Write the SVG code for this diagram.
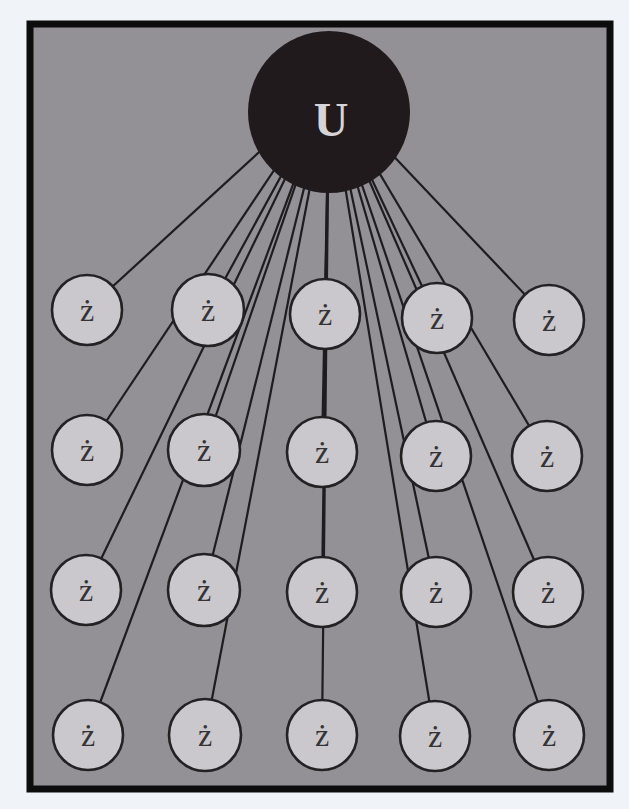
<svg xmlns="http://www.w3.org/2000/svg" width="629" height="809" viewBox="0 0 629 809">
<style>
.bg{fill:#f0f4f8}
.frame{fill:#939195;stroke:#0d0d0d;stroke-width:7}
.edge{stroke:#1e1c1e;stroke-width:2.2;fill:none}
.z circle{fill:#cac8cc;stroke:#232123;stroke-width:2.6}
.z text{font-family:"Liberation Serif","DejaVu Serif",serif;font-size:32px;fill:#353335;text-anchor:middle}
.u circle{fill:#211a1c}
.u text{font-family:"Liberation Serif","DejaVu Serif",serif;font-weight:bold;font-size:48px;fill:#d6d4d6;text-anchor:middle}
</style>
<rect class="bg" x="0" y="0" width="629" height="809"/>
<rect class="frame" x="30" y="24" width="580" height="765"/>
<g id="connectors" class="edge">
<line x1="329" y1="88" x2="87" y2="310"/>
<line x1="329" y1="88" x2="208" y2="310"/>
<line x1="329" y1="88" x2="325" y2="314"/>
<line x1="329" y1="88" x2="437" y2="318"/>
<line x1="329" y1="88" x2="549" y2="320"/>
<line x1="329" y1="88" x2="87" y2="450"/>
<line x1="329" y1="88" x2="204" y2="450"/>
<line x1="329" y1="88" x2="322" y2="452"/>
<line x1="329" y1="88" x2="436" y2="456"/>
<line x1="329" y1="88" x2="547" y2="456"/>
<line x1="329" y1="88" x2="86" y2="590"/>
<line x1="329" y1="88" x2="204" y2="590"/>
<line x1="329" y1="88" x2="322" y2="592"/>
<line x1="329" y1="88" x2="436" y2="592"/>
<line x1="329" y1="88" x2="548" y2="592"/>
<line x1="329" y1="88" x2="88" y2="735"/>
<line x1="329" y1="88" x2="205" y2="735"/>
<line x1="329" y1="88" x2="322" y2="735"/>
<line x1="329" y1="88" x2="435" y2="736"/>
<line x1="329" y1="88" x2="549" y2="735"/>
</g>
<g id="U" class="u"><circle cx="329" cy="112" r="81"/><text x="331" y="136">U</text></g>
<g id="z11" class="z"><circle cx="87" cy="310" r="35"/><text x="87" y="321">ż</text></g>
<g id="z12" class="z"><circle cx="208" cy="310" r="36"/><text x="208" y="321">ż</text></g>
<g id="z13" class="z"><circle cx="325" cy="314" r="35"/><text x="325" y="325">ż</text></g>
<g id="z14" class="z"><circle cx="437" cy="318" r="35"/><text x="437" y="329">ż</text></g>
<g id="z15" class="z"><circle cx="549" cy="320" r="35"/><text x="549" y="331">ż</text></g>
<g id="z21" class="z"><circle cx="87" cy="450" r="35"/><text x="87" y="461">ż</text></g>
<g id="z22" class="z"><circle cx="204" cy="450" r="36"/><text x="204" y="461">ż</text></g>
<g id="z23" class="z"><circle cx="322" cy="452" r="35"/><text x="322" y="463">ż</text></g>
<g id="z24" class="z"><circle cx="436" cy="456" r="35"/><text x="436" y="467">ż</text></g>
<g id="z25" class="z"><circle cx="547" cy="456" r="35"/><text x="547" y="467">ż</text></g>
<g id="z31" class="z"><circle cx="86" cy="590" r="35"/><text x="86" y="601">ż</text></g>
<g id="z32" class="z"><circle cx="204" cy="590" r="36"/><text x="204" y="601">ż</text></g>
<g id="z33" class="z"><circle cx="322" cy="592" r="35"/><text x="322" y="603">ż</text></g>
<g id="z34" class="z"><circle cx="436" cy="592" r="35"/><text x="436" y="603">ż</text></g>
<g id="z35" class="z"><circle cx="548" cy="592" r="35"/><text x="548" y="603">ż</text></g>
<g id="z41" class="z"><circle cx="88" cy="735" r="35"/><text x="88" y="746">ż</text></g>
<g id="z42" class="z"><circle cx="205" cy="735" r="36"/><text x="205" y="746">ż</text></g>
<g id="z43" class="z"><circle cx="322" cy="735" r="35"/><text x="322" y="746">ż</text></g>
<g id="z44" class="z"><circle cx="435" cy="736" r="35"/><text x="435" y="747">ż</text></g>
<g id="z45" class="z"><circle cx="549" cy="735" r="35"/><text x="549" y="746">ż</text></g>
</svg>
